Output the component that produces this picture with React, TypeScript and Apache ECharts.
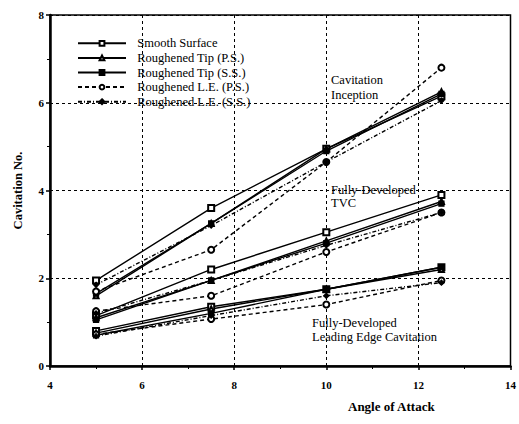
import React, { useEffect, useRef } from "react";
import * as echarts from "echarts";

const angles = [5, 7.5, 10, 12.5];
const seriesNames = [
  "Smooth Surface",
  "Roughened Tip (P.S.)",
  "Roughened Tip (S.S.)",
  "Roughened L.E. (P.S.)",
  "Roughened L.E. (S.S.)",
];

// Cavitation inception
const inceptionSmooth = [1.95, 3.6, 4.95, 6.15];
const inceptionTipPS = [1.6, 3.25, 4.95, 6.25];
const inceptionTipSS = [1.65, 3.25, 4.9, 6.2];
const inceptionLEPS = [1.7, 2.65, 4.65, 6.8];
const inceptionLESS = [1.85, 3.2, 4.65, 6.05];

// Fully-developed TVC
const tvcSmooth = [1.15, 2.2, 3.05, 3.9];
const tvcTipPS = [1.1, 1.95, 2.85, 3.75];
const tvcTipSS = [1.05, 1.95, 2.8, 3.7];
const tvcLEPS = [1.25, 1.6, 2.6, 3.5];
const tvcLESS = [1.2, 1.95, 2.75, 3.5];

// Fully-developed leading edge cavitation
const leSmooth = [0.8, 1.35, 1.75, 2.25];
const leTipPS = [0.75, 1.3, 1.75, 2.2];
const leTipSS = [0.7, 1.2, 1.75, 2.25];
const leLEPS = [0.72, 1.07, 1.4, 1.95];
const leLESS = [0.68, 1.15, 1.6, 1.9];

const xTicks = [4, 6, 8, 10, 12, 14];
const yTicks = [0, 2, 4, 6, 8];

const groups = [
  [inceptionSmooth, inceptionTipPS, inceptionTipSS, inceptionLEPS, inceptionLESS],
  [tvcSmooth, tvcTipPS, tvcTipSS, tvcLEPS, tvcLESS],
  [leSmooth, leTipPS, leTipSS, leLEPS, leLESS],
];

const styles = [
  { symbol: "emptyRect", symbolSize: 6, type: "solid" as any },
  { symbol: "emptyTriangle", symbolSize: 5, type: "solid" as any },
  { symbol: "rect", symbolSize: 5, type: "solid" as any },
  { symbol: "emptyCircle", symbolSize: 6, type: [4, 3] as any },
  { symbol: "diamond", symbolSize: 5, type: [4, 2, 1, 2] as any },
];

const FONT = "Liberation Serif";

export default function App() {
  const ref = useRef<HTMLDivElement>(null);
  useEffect(() => {
    if (!ref.current) return;
    const chart = echarts.init(ref.current, undefined, { renderer: "svg" });
    const series: any[] = [];
    groups.forEach((g) => {
      g.forEach((vals, i) => {
        const st = styles[i];
        series.push({
          type: "line",
          name: seriesNames[i],
          data: angles.map((a, k) => [a, vals[k]]),
          symbol: st.symbol,
          symbolSize: st.symbolSize,
          showAllSymbol: true,
          itemStyle: { color: "#000", borderColor: "#000", borderWidth: 1.3 },
          lineStyle: { color: "#000", width: 1.4, type: st.type },
          emphasis: { disabled: true },
        });
      });
    });
    chart.setOption({
      animation: false,
      backgroundColor: "#fff",
      grid: {
        left: 50,
        right: 3,
        top: 15,
        bottom: 58,
        show: true,
        borderColor: "#000",
        borderWidth: 1.5,
        backgroundColor: "transparent",
      },
      legend: {
        data: seriesNames,
        orient: "vertical",
        left: 72,
        top: 31,
        itemWidth: 48,
        itemHeight: 6,
        itemGap: 0,
        formatter: (n: string) => "  " + n,
        textStyle: { fontFamily: FONT, fontSize: 12.5, color: "#000", lineHeight: 14.6 },
        selectedMode: false,
      },
      xAxis: {
        type: "value",
        min: 4,
        max: 14,
        interval: 2,
        axisLine: { show: true, lineStyle: { color: "#000", width: 2.5 } },
        axisTick: { show: true, inside: false, length: 4, lineStyle: { color: "#000", width: 1.5 } },
        minorTick: { show: true, splitNumber: 2, length: 3, lineStyle: { color: "#000" } },
        axisLabel: {
          fontFamily: FONT,
          fontWeight: "bold",
          fontSize: 11,
          color: "#000",
          margin: 13,
          formatter: (v: number) => (xTicks.includes(v) ? String(v) : ""),
        },
        splitLine: { show: true, lineStyle: { color: "#000", type: [3, 3], width: 1 } },
        name: "",
      },
      yAxis: {
        type: "value",
        min: 0,
        max: 8,
        interval: 2,
        axisLine: { show: true, lineStyle: { color: "#000", width: 2.5 } },
        axisTick: { show: true, inside: false, length: 4, lineStyle: { color: "#000", width: 1.5 } },
        minorTick: { show: true, splitNumber: 2, length: 3, lineStyle: { color: "#000" } },
        axisLabel: {
          fontFamily: FONT,
          fontWeight: "bold",
          fontSize: 11,
          color: "#000",
          margin: 6,
          formatter: (v: number) => (yTicks.includes(v) ? String(v) : ""),
        },
        splitLine: { show: true, lineStyle: { color: "#000", type: [3, 3], width: 1 } },
        name: "Cavitation No.",
        nameLocation: "middle",
        nameRotate: 90,
        nameGap: 26,
        nameTextStyle: { fontFamily: FONT, fontWeight: "bold", fontSize: 12.5, color: "#000" },
      },
      graphic: [
        {
          type: "text",
          left: 348,
          top: 400,
          style: { text: "Angle of Attack", font: `bold 13px "${FONT}"`, fill: "#000" },
        },
        {
          type: "text",
          left: 331,
          top: 72,
          style: { text: "Cavitation\nInception", font: `12.5px "${FONT}"`, fill: "#000", lineHeight: 15 },
        },
        {
          type: "text",
          left: 331,
          top: 183,
          style: { text: "Fully-Developed\nTVC", font: `12.5px "${FONT}"`, fill: "#000", lineHeight: 13 },
        },
        {
          type: "text",
          left: 312,
          top: 316,
          style: {
            text: "Fully-Developed\nLeading Edge Cavitation",
            font: `12.5px "${FONT}"`,
            fill: "#000",
            lineHeight: 14,
          },
        },
      ],
      series,
    });
    return () => chart.dispose();
  }, []);
  return <div ref={ref} style={{ width: 519, height: 424, position: "absolute", left: 0, top: 0 }} />;
}
